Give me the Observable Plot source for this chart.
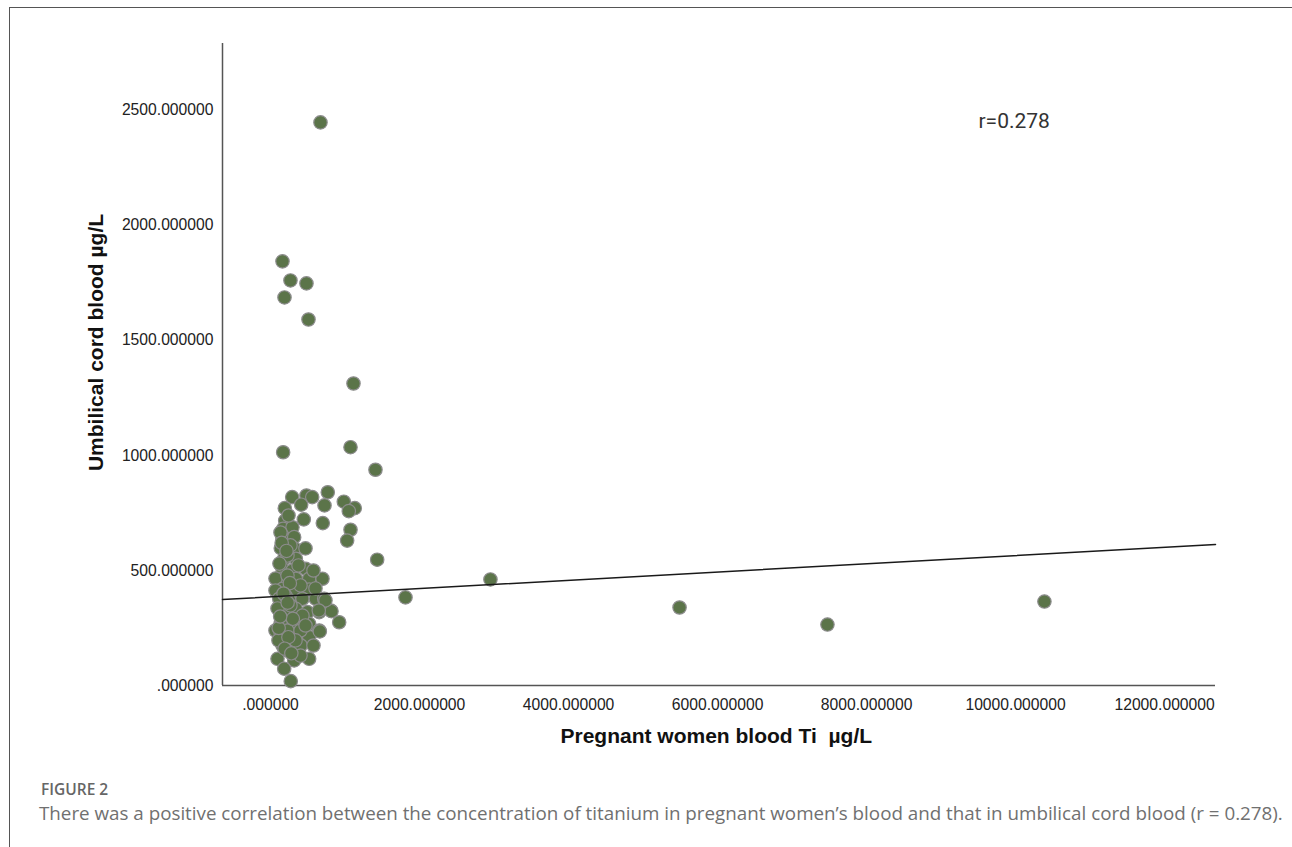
<!DOCTYPE html>
<html><head><meta charset="utf-8">
<script src="https://cdn.jsdelivr.net/npm/d3@7"></script>
<script src="https://cdn.jsdelivr.net/npm/@observablehq/plot@0.6"></script>
<style>
body{margin:0;background:#fff;}
#fig{position:relative;width:1292px;height:847px;overflow:hidden;background:#fff;}
#frame{position:absolute;left:9px;top:7px;width:1400px;height:900px;border-top:1.5px solid #555;border-left:1.5px solid #555;}
#chart{position:absolute;left:0;top:0;}
#figlabel{position:absolute;left:41px;top:779px;font:600 15.5px/20px "Open Sans";color:#666;}
#caption{position:absolute;left:39px;top:800px;font:400 18.8px/26px "Open Sans";color:#707070;white-space:nowrap;}
</style></head>
<body><div id="fig"><div id="frame"></div><div id="chart"></div>
<div id="figlabel">FIGURE 2</div>
<div id="caption">There was a positive correlation between the concentration of titanium in pregnant women’s blood and that in umbilical cord blood (r = 0.278).</div></div>
<script>
const xDomain = [-644, 12683];
const yDomain = [0, 2791];
const xTicks = [0, 2000, 4000, 6000, 8000, 10000, 12000];
const yTicks = [0, 500, 1000, 1500, 2000, 2500];
const xTitle = "Pregnant women blood Ti  µg/L";
const yTitle = "Umbilical cord blood µg/L";
const rLabel = "r=0.278";
const fitIntercept = 385.5;
const fitSlope = 0.01793;

// Pregnant women blood Ti (µg/L)
const motherTi = [
  671,161,268,483,188,510,1114,170,1074,1409,1432,1812,2952,5490,7475,10387,
  291,483,560,769,412,192,725,984,1131,1051,447,702,1074,1029,
  197,170,295,161,318,138,318,184,340,161,295,474,138,340,519,698,67,161,340,519,67,
  117,251,429,608,721,184,340,497,654,809,922,138,318,519,654,67,138,318,519,161,407,
  94,318,519,184,272,662,819,
  242,268,228,403,228,429,228,403,577,228,403,94,577,470,268,201,376,134,336,470,107,604,738,648,
  150,215,120,260,175,300,110,240,190,280,130,230
];
// Umbilical cord blood Ti (µg/L)
const cordTi = [
  2448,1844,1761,1748,1687,1591,1313,1014,1036,938,547,383,461,339,265,365,
  819,826,819,840,786,771,783,799,771,758,722,706,677,630,
  717,681,688,638,645,597,597,551,551,507,500,507,464,464,464,464,465,420,417,417,413,
  377,370,377,377,377,326,333,319,319,326,275,275,268,268,239,239,225,203,210,174,174,
  116,109,116,73,19,235,323,
  739,609,565,435,478,304,239,239,174,152,130,335,500,596,348,391,522,665,196,261,196,422,370,326,
  620,585,530,445,400,290,250,210,160,140,300,360
];

const fmt = d => d === 0 ? ".000000" : d.toFixed(6);
const points = motherTi.map((x, i) => ({x, y: cordTi[i]}));
const fitLine = xDomain.map(x => ({x, y: fitIntercept + fitSlope * x}));

const plot = Plot.plot({
  width: 1292, height: 760,
  marginLeft: 222, marginRight: 77, marginTop: 43, marginBottom: 75,
  style: {fontFamily: "'Liberation Sans', Arial, sans-serif", fontSize: "15.7px", color: "#222", background: "transparent"},
  x: {domain: xDomain, ticks: xTicks, tickFormat: fmt, tickSize: 0, tickPadding: 13, label: null},
  y: {domain: yDomain, ticks: yTicks, tickFormat: fmt, tickSize: 0, tickPadding: 9, label: null},
  marks: [
    Plot.ruleY([yDomain[0]], {stroke: "#555", strokeWidth: 1.5}),
    Plot.ruleX([xDomain[0]], {stroke: "#555", strokeWidth: 1.5}),
    Plot.dot(points, {x: "x", y: "y", r: 6.7, fill: "#5b7449", stroke: "#8c8c8c", strokeWidth: 1.2}),
    Plot.line(fitLine, {x: "x", y: "y", stroke: "#1a1a1a", strokeWidth: 1.5}),
    Plot.text([rLabel], {frameAnchor: "top-right", textAnchor: "start", dx: -237, dy: 70, fontSize: 21, fontFamily: "Roboto", fill: "#333"}),
    Plot.text([yTitle], {frameAnchor: "left", textAnchor: "middle", rotate: -90, dx: -126, dy: -22, fontSize: 21, fontWeight: "bold", fill: "#111"}),
    Plot.text([xTitle], {frameAnchor: "bottom", textAnchor: "start", dx: -158.5, dy: 57, fontSize: 21, fontWeight: "bold", fill: "#111"})
  ]
});
document.getElementById("chart").appendChild(plot);
</script>
</body></html>
